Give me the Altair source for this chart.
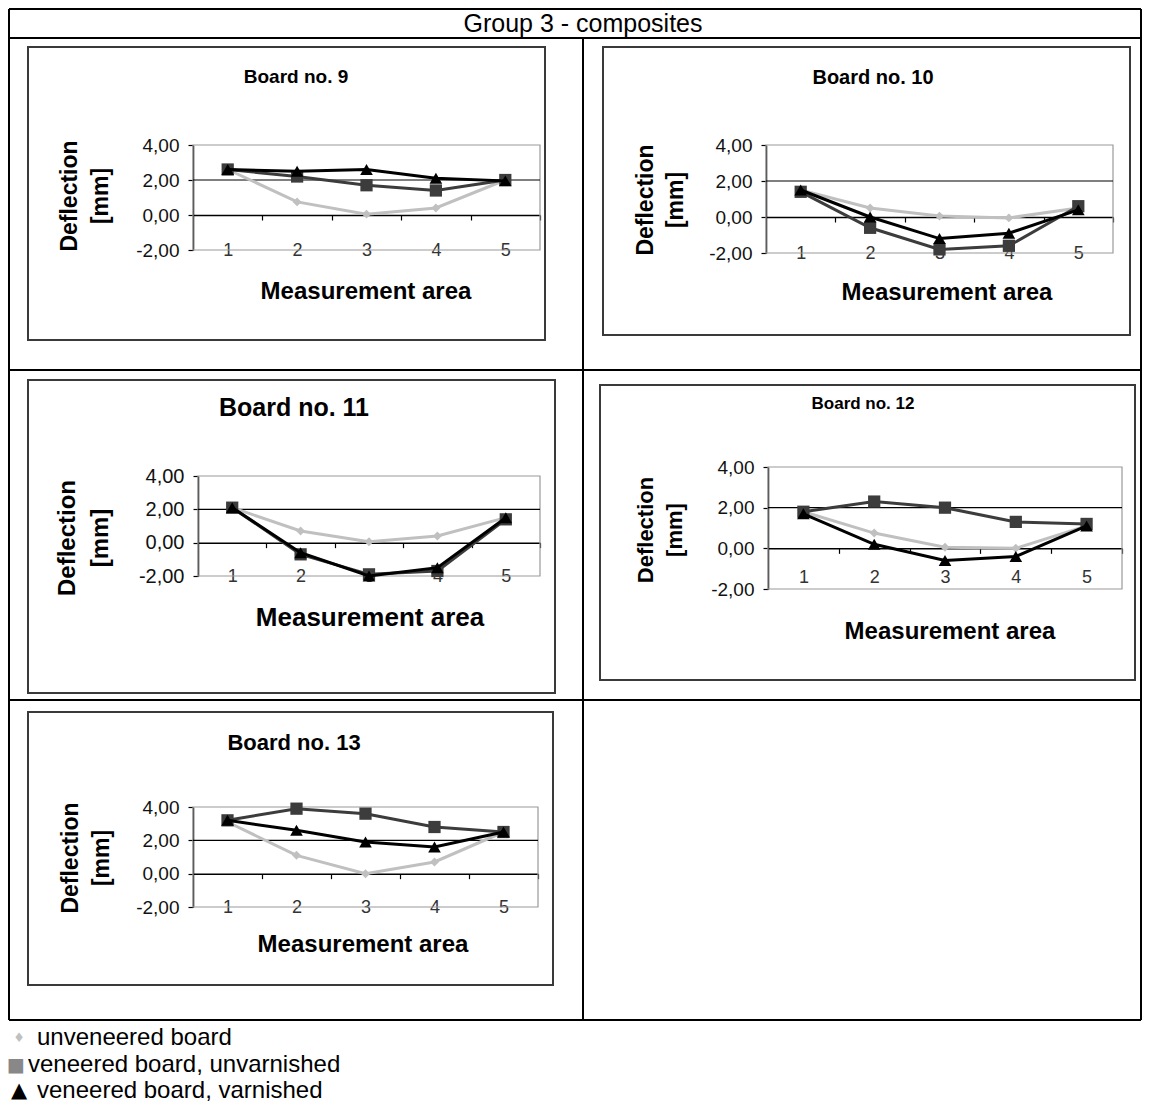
import altair as alt
import pandas as pd

# ---------------- data ----------------
AREAS = [1, 2, 3, 4, 5]
SERIES = ["unveneered board", "veneered board, unvarnished", "veneered board, varnished"]
BOARD_TITLES = ["Board no. 9", "Board no. 10", "Board no. 11", "Board no. 12", "Board no. 13"]
Y_TICKS = [-2, 0, 2, 4]
Y_TICK_LABELS = ["-2,00", "0,00", "2,00", "4,00"]
X_TICK_LABELS = ["1", "2", "3", "4", "5"]

b9_unveneered = [2.6, 0.75, 0.05, 0.4, 2.0]
b9_unvarnished = [2.6, 2.2, 1.7, 1.4, 2.0]
b9_varnished = [2.6, 2.5, 2.6, 2.1, 1.95]

b10_unveneered = [1.5, 0.5, 0.05, -0.05, 0.5]
b10_unvarnished = [1.4, -0.6, -1.8, -1.6, 0.6]
b10_varnished = [1.5, 0.0, -1.2, -0.9, 0.4]

b11_unveneered = [2.1, 0.7, 0.05, 0.4, 1.5]
b11_unvarnished = [2.1, -0.7, -1.9, -1.7, 1.4]
b11_varnished = [2.1, -0.6, -2.0, -1.5, 1.5]

b12_unveneered = [1.8, 0.75, 0.05, 0.0, 1.1]
b12_unvarnished = [1.8, 2.3, 2.0, 1.3, 1.2]
b12_varnished = [1.7, 0.2, -0.6, -0.4, 1.1]

b13_unveneered = [3.1, 1.1, 0.0, 0.7, 2.5]
b13_unvarnished = [3.2, 3.9, 3.6, 2.8, 2.5]
b13_varnished = [3.2, 2.6, 1.9, 1.6, 2.5]

BOARD_DATA = [
    [b9_unveneered, b9_unvarnished, b9_varnished],
    [b10_unveneered, b10_unvarnished, b10_varnished],
    [b11_unveneered, b11_unvarnished, b11_varnished],
    [b12_unveneered, b12_unvarnished, b12_varnished],
    [b13_unveneered, b13_unvarnished, b13_varnished],
]

# ---------------- layout / style ----------------
W, H = 1135, 1095
M = 8  # page margin


def cx(v):
    return v - M


def cy(v):
    return v - M


FONT = "Liberation Sans, Arial, sans-serif"
NARROW = "'Liberation Sans Narrow', 'Arial Narrow', Liberation Sans, Arial, sans-serif"

STYLE = {
    "unveneered board": dict(color="#c0c0c0", shape="diamond", size=80),
    "veneered board, unvarnished": dict(color="#3c3c3c", shape="square", size=150),
    "veneered board, varnished": dict(color="#000000", shape="triangle-up", size=160),
}

# per-panel layout in page pixels
PANELS = [
    dict(box=(28, 47, 545, 340), x0=193, x1=540, ytop=145, ybot=250, title=(296, 77), tfs=19,
         ytx=(70, 101), yty=196, xt=(366, 292), xfs=24, yfs=23, lfs=19, xlfs=18, lpad=-9, font=NARROW),
    dict(box=(603, 47, 1130, 335), x0=766, x1=1113, ytop=145, ybot=253, title=(873, 78), tfs=20,
         ytx=(646, 676), yty=200, xt=(947, 293), xfs=24, yfs=23, lfs=19, xlfs=18, lpad=-9, font=NARROW),
    dict(box=(28, 380, 555, 693), x0=198, x1=540, ytop=476, ybot=576, title=(294, 408), tfs=25,
         ytx=(68, 101), yty=538, xt=(370, 618), xfs=26, yfs=24, lfs=20, xlfs=18, lpad=-9, font=FONT),
    dict(box=(600, 385, 1135, 680), x0=768, x1=1122, ytop=467, ybot=589, title=(863, 404), tfs=17,
         ytx=(646, 675), yty=530, xt=(950, 632), xfs=24, yfs=22, lfs=19, xlfs=18, lpad=-21, font=NARROW),
    dict(box=(28, 712, 553, 985), x0=193, x1=538, ytop=807, ybot=907, title=(294, 743), tfs=22,
         ytx=(71, 102), yty=858, xt=(363, 945), xfs=24, yfs=23, lfs=19, xlfs=18, lpad=-9, font=FONT),
]

one = pd.DataFrame({"k": [0]})
layers = []


def text_layer(txt, x, y, size, bold=False, font=FONT, angle=0, color="black", align="center"):
    m = dict(text=txt, fontSize=size, font=font, color=color, align=align, baseline="middle")
    if bold:
        m["fontWeight"] = "bold"
    if angle:
        m["angle"] = angle
    return alt.Chart(one).mark_text(**m).encode(x=alt.value(cx(x)), y=alt.value(cy(y)))


def rule_layer(x1, y1, x2, y2, color="black", width=2):
    return alt.Chart(one).mark_rule(color=color, strokeWidth=width).encode(
        x=alt.value(cx(x1)), x2=alt.value(cx(x2)), y=alt.value(cy(y1)), y2=alt.value(cy(y2)))


# table frame
RIGHT = 1141
TOP = 9
layers.append(rule_layer(9, TOP, RIGHT, TOP))
layers.append(rule_layer(9, 1020, RIGHT, 1020))
layers.append(rule_layer(9, TOP, 9, 1020))
layers.append(rule_layer(RIGHT, TOP, RIGHT, 1020))
layers.append(rule_layer(9, 38, RIGHT, 38))
layers.append(rule_layer(9, 370, RIGHT, 370))
layers.append(rule_layer(9, 700, RIGHT, 700))
layers.append(rule_layer(583, 38, 583, 1020))
layers.append(text_layer("Group 3 - composites", 583, 24, 25))

y_label_expr = " : ".join(
    f"datum.value == {v} ? '{lab}'" for v, lab in zip(Y_TICKS, Y_TICK_LABELS)) + " : ''"
x_label_expr = " : ".join(
    f"datum.value == {v} ? '{lab}'" for v, lab in zip(AREAS, X_TICK_LABELS)) + " : ''"

for p, title, data in zip(PANELS, BOARD_TITLES, BOARD_DATA):
    bx0, by0, bx1, by1 = p["box"]
    # chart-area box
    box = alt.Chart(one).mark_rect(fill="transparent", stroke="#3a3a3a", strokeWidth=2).encode(
        x=alt.value(cx(bx0)), x2=alt.value(cx(bx1)), y=alt.value(cy(by0)), y2=alt.value(cy(by1)))
    layers.append(box)

    xs = alt.Scale(domain=[0.5, 5.5], range=[cx(p["x0"]), cx(p["x1"])], nice=False, zero=False)
    ys = alt.Scale(domain=[-2, 4], range=[cy(p["ybot"]), cy(p["ytop"])], nice=False, zero=False)
    y0px = p["ybot"] - (p["ybot"] - p["ytop"]) * 2 / 6

    # plot-area border (gray) carrying the y axis and the category labels
    frame = pd.DataFrame({"a": [0.5], "b": [5.5], "lo": [-2], "hi": [4]})
    layers.append(
        alt.Chart(frame).mark_rect(fill="transparent", stroke="#9a9a9a", strokeWidth=1.2).encode(
            x=alt.X("a:Q", scale=xs, axis=alt.Axis(
                orient="bottom", offset=cy(p["ybot"]) - H, values=AREAS, labelExpr=x_label_expr,
                ticks=False, domain=False, grid=False, title=None, labelPadding=p["lpad"],
                labelFont=p["font"], labelFontSize=p["xlfs"], labelColor="#333333",
                labelOverlap=False, labelFlush=False)),
            x2="b",
            y=alt.Y("lo:Q", scale=ys, axis=alt.Axis(
                orient="left", offset=-cx(p["x0"]), values=Y_TICKS, labelExpr=y_label_expr,
                tickSize=5, tickColor="black", tickWidth=1.2, domainColor="black", domainWidth=1.5,
                grid=False, title=None, labelFont=p["font"], labelFontSize=p["lfs"],
                labelColor="#111111", labelPadding=9, labelOverlap=False, labelFlush=False)),
            y2="hi",
        )
    )
    # gridline at 2 (black); carries the zero-line x axis with tick marks
    grid = pd.DataFrame({"a": [0.5], "b": [5.5], "g": [2]})
    layers.append(
        alt.Chart(grid).mark_rule(color="black", strokeWidth=1.2).encode(
            x=alt.X("a:Q", scale=xs, axis=alt.Axis(
                orient="bottom", offset=cy(y0px) - H, values=[1.5, 2.5, 3.5, 4.5, 5.5],
                labels=False, tickSize=5, tickColor="black", tickWidth=1.2,
                domainColor="black", domainWidth=1.5, grid=False, title=None)),
            x2="b",
            y=alt.Y("g:Q", scale=ys, axis=None),
        )
    )
    # series
    for name, vals in zip(SERIES, data):
        st = STYLE[name]
        df = pd.DataFrame({"area": AREAS, "value": vals})
        base = alt.Chart(df)
        layers.append(base.mark_line(color=st["color"], strokeWidth=3).encode(
            x=alt.X("area:Q", scale=xs, axis=None), y=alt.Y("value:Q", scale=ys, axis=None)))
        layers.append(base.mark_point(shape=st["shape"], filled=True, size=st["size"],
                                      color=st["color"], opacity=1).encode(
            x=alt.X("area:Q", scale=xs, axis=None), y=alt.Y("value:Q", scale=ys, axis=None)))

    # texts
    layers.append(text_layer(title, p["title"][0], p["title"][1], p["tfs"], bold=True, font=p["font"]))
    layers.append(text_layer("Deflection", p["ytx"][0], p["yty"], p["yfs"], bold=True, font=p["font"], angle=270))
    layers.append(text_layer("[mm]", p["ytx"][1], p["yty"], p["yfs"], bold=True, font=p["font"], angle=270))
    layers.append(text_layer("Measurement area", p["xt"][0], p["xt"][1], p["xfs"], bold=True, font=p["font"]))

# legend below the table
LEGEND_Y = [1038, 1065, 1091]
LEGEND_SYMBOLS = ["\u2666", "\u25a0", "\u25b2"]
LEGEND_SYMBOL_COLORS = ["#c0c0c0", "#888888", "#000000"]
LEGEND_SYMBOL_SIZES = [13, 19, 21]
LEGEND_SYMBOL_X = [19, 16, 19]
LEGEND_TEXT_X = [37, 28, 37]
for sym, col, sz, sx, tx, yy, name in zip(LEGEND_SYMBOLS, LEGEND_SYMBOL_COLORS, LEGEND_SYMBOL_SIZES,
                                          LEGEND_SYMBOL_X, LEGEND_TEXT_X, LEGEND_Y, SERIES):
    layers.append(text_layer(sym, sx, yy, sz, font="DejaVu Sans", color=col))
    layers.append(text_layer(name, tx, yy, 24, align="left"))

chart = (
    alt.layer(*layers)
    .resolve_scale(x="independent", y="independent")
    .properties(width=W, height=H, autosize=alt.AutoSizeParams(type="none"), padding=0)
    .configure_view(strokeWidth=0)
    .configure_axis(grid=False)
)

chart.save("out.html", embed_options={"renderer": "svg", "actions": False})
